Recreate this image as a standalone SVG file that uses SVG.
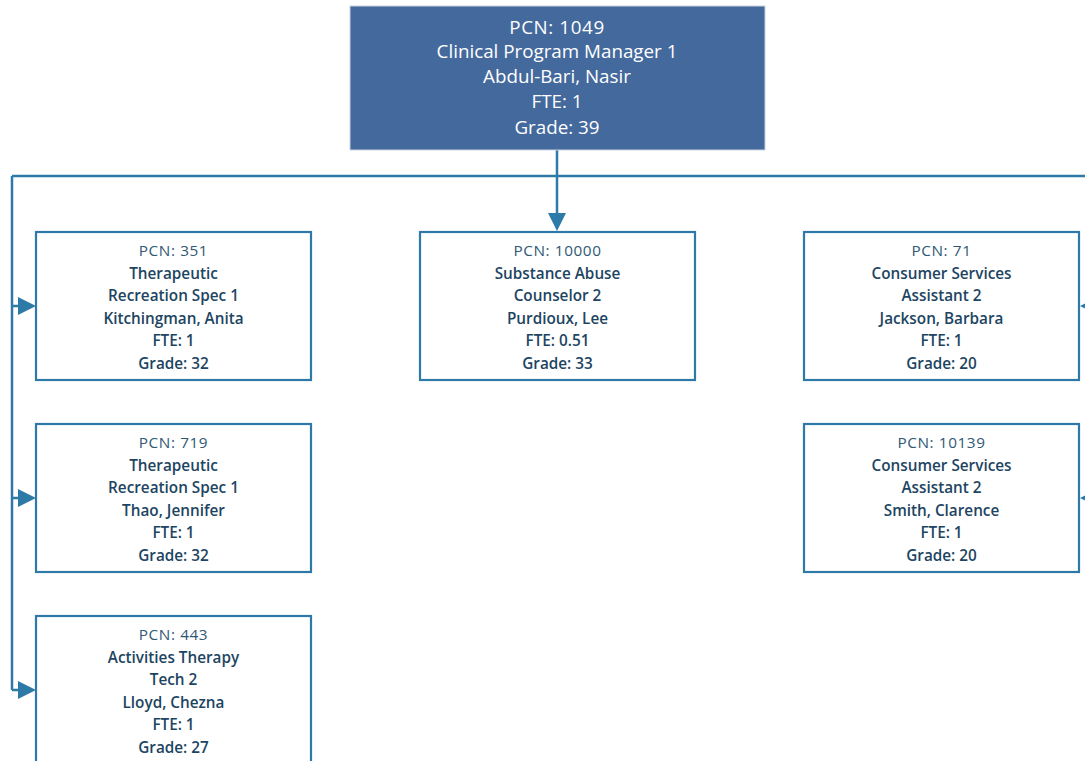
<svg xmlns="http://www.w3.org/2000/svg" width="1085" height="761" viewBox="0 0 1085 761">
<defs>
<style>
.box{fill:#ffffff;stroke:#2d7aa8;stroke-width:2.2}
.top{fill:#44699d;stroke:#c9d3e0;stroke-width:1}
.t{font-family:"Open Sans","Liberation Sans",sans-serif;text-anchor:middle;font-size:15.3px;fill:#1d4562;font-weight:600}
.p{font-weight:400;fill:#2f5874;letter-spacing:0.6px}
.tt{font-family:"Open Sans","Liberation Sans",sans-serif;text-anchor:middle;font-size:18.8px;fill:#ffffff;font-weight:400}
.c{fill:none;stroke:#2d7aa8;stroke-width:2.5}
.ah{fill:#2d7aa8}
</style>
</defs>
<g id="connectors">
<path class="c" d="M557 150 V214 M12 176 H1104 M12 176 V690 M12 306 H20 M12 498 H20 M12 690 H20 M1104 176 V498 M1104 306 H1096 M1104 498 H1096"/>
<polygon class="ah" points="548,213 566,213 557,231"/>
<polygon class="ah" points="18,297 18,315 36,306"/>
<polygon class="ah" points="18,489 18,507 36,498"/>
<polygon class="ah" points="18,681 18,699 36,690"/>
<polygon class="ah" points="1098,297 1098,315 1080,306"/>
<polygon class="ah" points="1098,489 1098,507 1080,498"/>
</g>
<g id="n1049">
<rect class="top" x="350" y="6" width="415" height="144"/>
<text class="tt" x="557" y="34" letter-spacing="0.6">PCN: 1049</text>
<text class="tt" x="557" y="58">Clinical Program Manager 1</text>
<text class="tt" x="557" y="83">Abdul-Bari, Nasir</text>
<text class="tt" x="557" y="108">FTE: 1</text>
<text class="tt" x="557" y="134">Grade: 39</text>
</g>
<g id="n351">
<rect class="box" x="36" y="232" width="275" height="148"/>
<text class="t p" x="173.5" y="256">PCN: 351</text>
<text class="t" x="173.5" y="278.5">Therapeutic</text>
<text class="t" x="173.5" y="301">Recreation Spec 1</text>
<text class="t" x="173.5" y="323.5">Kitchingman, Anita</text>
<text class="t" x="173.5" y="346">FTE: 1</text>
<text class="t" x="173.5" y="368.5">Grade: 32</text>
</g>
<g id="n10000">
<rect class="box" x="420" y="232" width="275" height="148"/>
<text class="t p" x="557.5" y="256">PCN: 10000</text>
<text class="t" x="557.5" y="278.5">Substance Abuse</text>
<text class="t" x="557.5" y="301">Counselor 2</text>
<text class="t" x="557.5" y="323.5">Purdioux, Lee</text>
<text class="t" x="557.5" y="346">FTE: 0.51</text>
<text class="t" x="557.5" y="368.5">Grade: 33</text>
</g>
<g id="n71">
<rect class="box" x="804" y="232" width="275" height="148"/>
<text class="t p" x="941.5" y="256">PCN: 71</text>
<text class="t" x="941.5" y="278.5">Consumer Services</text>
<text class="t" x="941.5" y="301">Assistant 2</text>
<text class="t" x="941.5" y="323.5">Jackson, Barbara</text>
<text class="t" x="941.5" y="346">FTE: 1</text>
<text class="t" x="941.5" y="368.5">Grade: 20</text>
</g>
<g id="n719">
<rect class="box" x="36" y="424" width="275" height="148"/>
<text class="t p" x="173.5" y="448">PCN: 719</text>
<text class="t" x="173.5" y="470.5">Therapeutic</text>
<text class="t" x="173.5" y="493">Recreation Spec 1</text>
<text class="t" x="173.5" y="515.5">Thao, Jennifer</text>
<text class="t" x="173.5" y="538">FTE: 1</text>
<text class="t" x="173.5" y="560.5">Grade: 32</text>
</g>
<g id="n10139">
<rect class="box" x="804" y="424" width="275" height="148"/>
<text class="t p" x="941.5" y="448">PCN: 10139</text>
<text class="t" x="941.5" y="470.5">Consumer Services</text>
<text class="t" x="941.5" y="493">Assistant 2</text>
<text class="t" x="941.5" y="515.5">Smith, Clarence</text>
<text class="t" x="941.5" y="538">FTE: 1</text>
<text class="t" x="941.5" y="560.5">Grade: 20</text>
</g>
<g id="n443">
<rect class="box" x="36" y="616" width="275" height="160"/>
<text class="t p" x="173.5" y="640">PCN: 443</text>
<text class="t" x="173.5" y="662.5">Activities Therapy</text>
<text class="t" x="173.5" y="685">Tech 2</text>
<text class="t" x="173.5" y="707.5">Lloyd, Chezna</text>
<text class="t" x="173.5" y="730">FTE: 1</text>
<text class="t" x="173.5" y="752.5">Grade: 27</text>
</g>
</svg>
